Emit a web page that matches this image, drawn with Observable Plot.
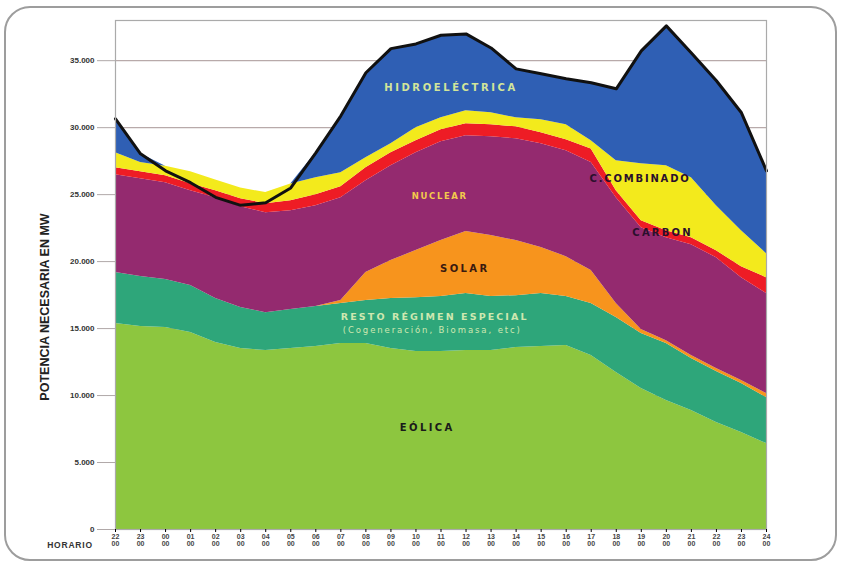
<!DOCTYPE html>
<html><head><meta charset="utf-8">
<script src="https://cdn.jsdelivr.net/npm/d3@7"></script>
<script src="https://cdn.jsdelivr.net/npm/@observablehq/plot@0.6"></script>
<style>
body{margin:0;background:#fff;}
#wrap{position:relative;width:842px;height:566px;overflow:hidden;}
#border{position:absolute;left:4px;top:6px;width:829px;height:551px;border:2.5px solid #9d9d9d;border-radius:26px;pointer-events:none;}
</style></head><body>
<div id="wrap"><div id="chart"></div><div id="border"></div></div>
<script>
// hour tick labels
const horas = ["22","23","00","01","02","03","04","05","06","07","08","09","10","11","12","13","14","15","16","17","18","19","20","21","22","23","24"];
// MW by source (stacked bottom to top)
const eolica  = [15370,15150,15080,14700,13960,13510,13360,13510,13660,13880,13880,13510,13280,13280,13360,13360,13580,13660,13730,12990,11720,10520,9630,8880,7990,7240,6420];
const resto   = [3810,3730,3580,3510,3280,3060,2830,2910,2980,2990,3210,3730,4030,4110,4250,4030,3880,3950,3660,3880,4100,4110,4250,3880,3800,3660,3430];
const solar   = [0,0,0,0,0,0,0,0,0,220,2090,2840,3510,4180,4630,4550,4110,3440,2980,2460,1050,300,220,230,230,220,300];
const nuclear = [7300,7300,7230,7080,7530,7530,7460,7380,7530,7680,6860,7080,7300,7380,7160,7380,7600,7750,7900,8070,7900,7600,7680,8270,8270,7680,7460];
const carbon  = [530,520,520,520,520,600,670,740,820,820,970,970,900,890,890,890,890,820,830,1000,520,520,530,520,520,820,1190];
const ciclo   = [1120,700,700,900,810,800,830,1260,1270,1040,740,670,980,900,970,900,680,970,1110,620,2240,4250,4850,4480,3360,2690,1790];
const hidro   = [2530,650,0,0,0,0,0,0,1860,4250,6350,7100,6250,6160,5740,4840,3650,3430,3440,4330,5370,8430,10440,9320,9330,8800,6190];
// total demand line
const demanda = [30660,28050,26780,25890,24800,24200,24400,25500,28120,30880,34100,35900,36250,36900,37000,35950,34390,34020,33650,33350,32900,35730,37600,35580,33500,31110,26780];
const fuentes = ["Eólica","Resto","Solar","Nuclear","Carbón","Ciclo combinado","Hidroeléctrica"];
const yTicks = [0,5000,10000,15000,20000,25000,30000,35000];

const colores = ["#8dc63f","#2ea67a","#f7941d","#942a6f","#ee1c25","#f3ea1c","#2f5fb4"];
const serieVals = [eolica,resto,solar,nuclear,carbon,ciclo,hidro];
const filas = [];
fuentes.forEach((f,k)=>serieVals[k].forEach((v,i)=>filas.push({hora:i,fuente:f,mw:v})));
const linea = demanda.map((v,i)=>({hora:i,mw:v}));

const etiquetas = [
  {t:"HIDROELÉCTRICA", x:13.4, y:33000, c:"#d2e59a", s:10, ls:2.6, w:"bold"},
  {t:"NUCLEAR", x:12.95, y:24850, c:"#f2c94c", s:8.5, ls:1.6, w:"bold"},
  {t:"C.COMBINADO", x:20.95, y:26200, c:"#2a0f2c", s:10, ls:1.8, w:"bold"},
  {t:"CARBON", x:21.85, y:22150, c:"#2a0f2c", s:10, ls:2.2, w:"bold"},
  {t:"SOLAR", x:13.95, y:19480, c:"#3a1a10", s:10, ls:2.4, w:"bold"},
  {t:"RESTO RÉGIMEN ESPECIAL", x:12.75, y:15850, c:"#cfe8b0", s:9.5, ls:2.1, w:"bold"},
  {t:"(Cogeneración, Biomasa, etc)", x:12.65, y:14850, c:"#cfe8b0", s:8.5, ls:1.9, w:"normal"},
  {t:"EÓLICA", x:12.45, y:7610, c:"#1a1a1a", s:10, ls:2.4, w:"bold"}
];

const fmt = d => d === 0 ? "0" : d3.format(",")(d).replace(",", ".");

const chart = Plot.plot({
  width: 842, height: 566,
  marginLeft: 115, marginRight: 76, marginTop: 20, marginBottom: 37,
  style: {fontFamily: "Liberation Sans, Arial, sans-serif", background: "#fff"},
  x: {domain: [0, 26]},
  y: {domain: [0, 38000]},
  color: {domain: fuentes, range: colores},
  marks: [
    Plot.gridY(yTicks.filter(d=>d>0), {stroke: "#b8aaaa", strokeOpacity: 1, strokeWidth: 1.2}),
    Plot.areaY(filas, {x: "hora", y: "mw", z: "fuente", fill: "fuente", order: fuentes, curve: "linear"}),
    Plot.line(linea, {x: "hora", y: "mw", stroke: "#111", strokeWidth: 3, curve: "linear"}),
    Plot.text(etiquetas, {x: "x", y: "y", text: "t", fill: "c", fontSize: "s", fontFamily: "DejaVu Sans, sans-serif"}),
    Plot.frame({stroke: "#aaa", strokeWidth: 1.2}),
    Plot.axisY({ticks: yTicks, tickFormat: fmt, tickSize: 18, tickPadding: 3, stroke: "#b0a8a8", fill: "#333", fontSize: 8, fontWeight: "bold", label: null}),
    Plot.axisX({ticks: d3.range(27), tickFormat: i => horas[i] + "\n00", tickSize: 3, tickPadding: 2, fontSize: 7, fontWeight: "bold", label: null})
  ]
});

document.getElementById("chart").appendChild(chart);
const svg = d3.select(chart);
svg.selectAll('g[aria-label="text"] text').each(function(_, i){
  const e = etiquetas[i];
  if (e) d3.select(this).attr("letter-spacing", e.ls).attr("font-weight", e.w);
});
svg.selectAll('g[aria-label="x-axis tick label"]').attr("fill", "#444").attr("opacity", 0.99);
svg.selectAll('g[aria-label="x-axis tick label"] text, g[aria-label="x-axis tick label"] tspan').attr("fill", "#444");
svg.append("text").attr("transform","translate(49,307) rotate(-90)")
  .attr("text-anchor","middle").attr("font-family","Liberation Sans Narrow, Liberation Sans, sans-serif")
  .attr("font-weight","bold").attr("font-size",12.5).attr("fill","#222")
  .text("POTENCIA NECESARIA EN MW");
svg.append("text").attr("x",70).attr("y",548).attr("text-anchor","middle")
  .attr("font-family","Liberation Sans, sans-serif").attr("font-weight","bold")
  .attr("font-size",8.5).attr("letter-spacing",0.8).attr("fill","#333").text("HORARIO");
</script></body></html>
